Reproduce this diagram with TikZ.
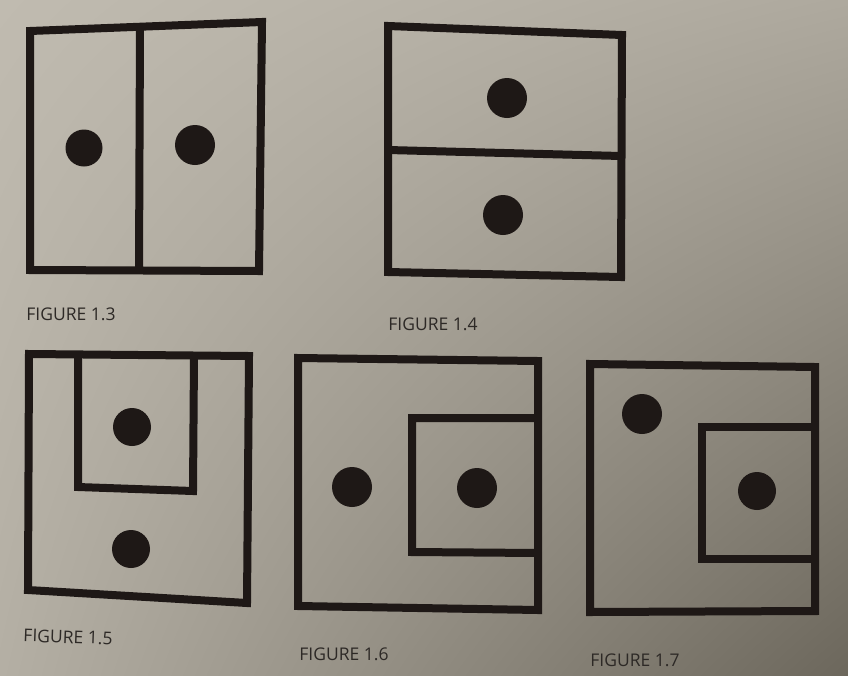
\documentclass[tikz,border=0pt]{standalone}
\usepackage{fontspec}
\setmainfont{Open Sans}
\usetikzlibrary{shadings}
\definecolor{ink}{RGB}{30,24,22}
\definecolor{captext}{RGB}{45,41,38}
\definecolor{paperA}{RGB}{192,187,176}
\definecolor{paperB}{RGB}{174,169,158}
\definecolor{paperC}{RGB}{180,175,164}
\definecolor{paperD}{RGB}{108,103,92}
\begin{document}
\begin{tikzpicture}[x=1pt,y=-1pt,
  frame/.style={line width=8pt, draw=ink, line join=miter, line cap=butt},
  dot/.style={circle, fill=ink, inner sep=0pt, minimum size=#1},
  figcap/.style={font=\fontsize{17.5}{17.5}\selectfont, text=captext, inner sep=0pt}]
\useasboundingbox (0,0) rectangle (848,675);
\shade[upper left=paperA, upper right=paperB, lower left=paperC, lower right=paperD] (0,0) rectangle (848,675);

% Figure 1.3
\draw[frame] (30,31) -- (262,22) -- (259,271) -- (30,270) -- cycle;
\draw[frame] (140,27) -- (139,270);
\node[dot=37pt] (d13a) at (84,148) {};
\node[dot=40pt] (d13b) at (195,145) {};
\node[figcap] (c13) at (71,314) {FIGURE 1.3};

% Figure 1.4
\draw[frame] (388,26) -- (622,35) -- (621,277) -- (388,272) -- cycle;
\draw[frame] (388,150) -- (621,156);
\node[dot=40pt] (d14a) at (507,98) {};
\node[dot=40pt] (d14b) at (503,215) {};
\node[figcap] (c14) at (433,324) {FIGURE 1.4};

% Figure 1.5
\draw[frame] (29,354) -- (249,356) -- (247,603) -- (28,590) -- cycle;
\draw[frame] (78,355) -- (78,487) -- (193,491) -- (194,356);
\node[dot=38pt] (d15a) at (132,427) {};
\node[dot=38pt] (d15b) at (131,549) {};
\node[figcap, rotate=-2] (c15) at (68,637) {FIGURE 1.5};

% Figure 1.6
\draw[frame] (298,358) -- (538,361) -- (538,610) -- (298,606) -- cycle;
\draw[frame] (538,418) -- (412,418) -- (412,552) -- (538,553);
\node[dot=40pt] (d16a) at (352,487) {};
\node[dot=40pt] (d16b) at (477,488) {};
\node[figcap] (c16) at (344,654) {FIGURE 1.6};

% Figure 1.7
\draw[frame] (590,364) -- (815,367) -- (815,611) -- (590,612) -- cycle;
\draw[frame] (815,427) -- (702,427) -- (702,559) -- (815,559);
\node[dot=40pt] (d17a) at (642,414) {};
\node[dot=38pt] (d17b) at (757,491) {};
\node[figcap] (c17) at (635,660) {FIGURE 1.7};
\end{tikzpicture}
\end{document}
